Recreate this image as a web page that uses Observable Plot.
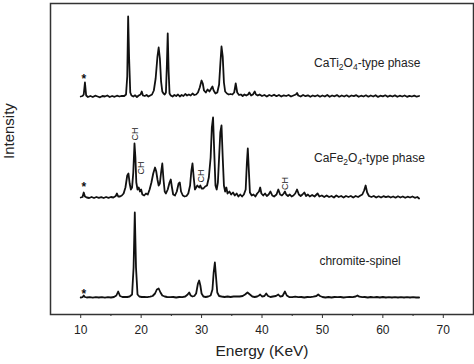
<!DOCTYPE html>
<html>
<head>
<meta charset="utf-8">
<script src="https://cdn.jsdelivr.net/npm/d3@7"></script>
<script src="https://cdn.jsdelivr.net/npm/@observablehq/plot@0.6"></script>
<style>
  html, body { margin: 0; padding: 0; background: #fff; }
</style>
</head>
<body>
<div id="chart"></div>
<script>
// Series names and stacking offsets (intensity, arbitrary units)
const seriesNames = ["CaTi₂O₄-type phase", "CaFe₂O₄-type phase", "chromite-spinel"];
const seriesOffsets = [218, 117, 17];

// [energy keV, intensity above baseline]
const caTi = [[10,0],[10.3,0.5],[10.5,2],[10.7,14],[10.9,1],[11.2,-0.5],[11.6,0.5],[12,-0.5],[12.4,0.8],[12.8,0],[13.2,-0.8],[13.6,0.5],[14,0],[14.4,1],[14.8,-0.5],[15.2,0.5],[15.6,-0.3],[16,0.8],[16.4,0],[16.8,0.6],[17.2,0.5],[17.5,2],[17.7,20],[17.85,80],[18.0,40],[18.2,4],[18.4,1],[18.7,0],[19.0,1.2],[19.3,-0.5],[19.6,1],[19.9,2],[20.1,5],[20.3,1],[20.6,0.5],[20.9,1.5],[21.2,0],[21.5,1],[21.8,2],[22.1,6],[22.4,18],[22.7,40],[22.9,49],[23.1,38],[23.3,15],[23.5,5],[23.7,3],[23.9,2],[24.1,4],[24.25,30],[24.4,63],[24.55,25],[24.7,3],[24.9,1],[25.2,0],[25.5,1.5],[25.8,0.5],[26.1,2],[26.4,0],[26.7,1.5],[27.0,0.5],[27.3,2.5],[27.6,1],[27.9,2],[28.2,1],[28.5,3],[28.8,1.5],[29.1,2],[29.4,4],[29.7,9],[30.0,16],[30.2,13],[30.4,6],[30.7,4],[31.0,7],[31.3,5],[31.6,8],[31.8,10],[32.0,6],[32.3,3],[32.6,4],[32.9,12],[33.1,32],[33.3,50],[33.5,40],[33.7,14],[33.9,5],[34.2,3],[34.5,2],[34.8,2.5],[35.1,2],[35.4,4],[35.65,13],[35.9,4],[36.2,1.5],[36.5,2],[36.8,0.5],[37.1,2],[37.4,1],[37.7,2],[37.9,4],[38.2,1],[38.5,2],[38.8,5],[39.0,2],[39.3,1],[39.6,2],[40,0.5],[40.4,1.5],[40.8,0],[41.2,1.5],[41.6,0.5],[42,1.8],[42.4,0.3],[42.8,1.5],[43.2,0],[43.6,1.2],[44,0.5],[44.4,1.5],[44.8,0],[45.2,1],[45.6,2],[45.8,3.5],[46.0,1],[46.4,0],[46.8,1.5],[47.2,0.3],[47.6,1.2],[48,-0.3],[48.4,1],[48.8,0.2],[49.2,1.3],[49.6,-0.2],[50,1],[50.4,0],[50.8,1.5],[51.2,-0.3],[51.6,1],[52,0.2],[52.4,1.4],[52.8,-0.2],[53.2,1],[53.6,0],[54,1.2],[54.4,-0.3],[54.8,1],[55.2,0.3],[55.6,1.3],[56,-0.3],[56.4,0.8],[56.8,0],[57.2,1.2],[57.6,-0.2],[58,1],[58.4,0],[58.8,1.3],[59.2,-0.4],[59.6,0.8],[60,0.1],[60.4,1.2],[60.8,-0.3],[61.2,0.9],[61.6,0],[62,1.1],[62.4,-0.3],[62.8,0.8],[63.2,0],[63.6,1],[64,-0.3],[64.4,0.7],[64.8,0],[65.2,0.9],[65.6,-0.2],[66,0.5]];

const caFe = [[10,0],[10.3,0.5],[10.5,5],[10.7,1],[11,0],[11.4,-0.5],[11.8,0.5],[12.2,-0.5],[12.6,0.5],[13,-0.3],[13.4,0.4],[13.8,-0.5],[14.2,0.5],[14.6,-0.3],[15,0.5],[15.4,0],[15.8,1.5],[16.0,4],[16.2,1],[16.5,1],[16.8,2],[17.1,4],[17.4,10],[17.7,22],[17.9,24],[18.1,14],[18.3,8],[18.5,10],[18.7,25],[18.9,54],[19.05,40],[19.2,15],[19.4,8],[19.6,10],[19.8,6],[20.0,8],[20.2,3],[20.5,2],[20.8,4],[21.1,3],[21.4,8],[21.7,15],[22.0,24],[22.3,30],[22.5,26],[22.7,18],[22.9,12],[23.1,14],[23.3,25],[23.5,34],[23.7,18],[23.9,6],[24.1,4],[24.4,8],[24.7,15],[24.9,18],[25.1,10],[25.3,3],[25.6,2],[25.9,6],[26.2,14],[26.4,15],[26.6,6],[26.9,2],[27.2,1],[27.5,1.5],[27.8,4],[28.1,12],[28.3,26],[28.5,34],[28.7,20],[28.9,8],[29.1,10],[29.3,12],[29.6,10],[29.8,12],[30.0,9],[30.3,9],[30.6,11],[30.9,12],[31.2,20],[31.5,40],[31.7,70],[31.9,80],[32.1,45],[32.3,12],[32.5,8],[32.7,15],[32.9,40],[33.1,65],[33.3,72],[33.5,40],[33.7,12],[33.9,6],[34.1,10],[34.3,4],[34.6,6],[34.9,3],[35.2,5],[35.5,2],[35.8,4],[36.1,1],[36.4,3],[36.7,1],[37.0,3],[37.3,8],[37.5,35],[37.65,49],[37.8,30],[38.0,5],[38.3,2],[38.6,3],[38.9,1],[39.2,4],[39.5,6],[39.7,10],[39.9,4],[40.2,2],[40.5,4],[40.8,1.5],[41.1,3],[41.4,6],[41.7,2],[42.0,1],[42.4,3],[42.7,8],[43.0,3],[43.3,2],[43.6,4],[43.8,6],[44.0,3],[44.3,1.5],[44.6,3],[44.9,1],[45.2,2],[45.5,4],[45.8,8],[46.1,3],[46.4,1.5],[46.7,3],[47.0,5],[47.3,1.5],[47.6,3],[47.9,1],[48.3,2.5],[48.7,1],[49.2,4],[49.5,1],[49.9,2],[50.3,0.5],[50.7,2],[51.1,0.5],[51.5,1.5],[51.9,0],[52.3,2],[52.7,0.5],[53.1,1.5],[53.5,0],[53.9,1.5],[54.3,0.5],[54.7,1.5],[55.1,0],[55.5,1.5],[55.9,0.5],[56.3,2],[56.6,3],[56.9,7],[57.15,12],[57.4,5],[57.7,1.5],[58.1,0.5],[58.5,1.5],[58.9,0],[59.3,1.2],[59.7,0],[60.1,1.3],[60.5,0.3],[60.9,1.2],[61.3,0],[61.7,1],[62.1,-0.2],[62.5,1.2],[62.9,0],[63.3,1],[63.7,-0.3],[64.1,0.8],[64.5,0],[64.9,1],[65.3,-0.3],[65.7,0.5],[66,-1]];

const chromite = [[10,0],[10.3,0.3],[10.5,2],[10.7,0.5],[11,0],[11.5,0.3],[12,-0.2],[12.5,0.3],[13,0],[13.5,0.3],[14,-0.2],[14.5,0.3],[15,0],[15.5,0.5],[15.9,2],[16.2,6],[16.5,1.5],[16.9,0.5],[17.3,0.5],[17.7,0.5],[18.1,1],[18.5,3],[18.75,30],[18.95,85],[19.15,30],[19.4,3],[19.7,1],[20.1,0.5],[20.5,0.5],[21.0,0.3],[21.5,0.8],[21.9,1.5],[22.3,4],[22.6,8],[22.9,9],[23.2,5],[23.5,2],[23.9,1],[24.3,0.5],[24.8,0.3],[25.3,0.5],[25.8,0],[26.3,0.5],[26.8,0.3],[27.3,1],[27.7,3],[27.95,5],[28.2,2],[28.5,1],[28.8,1.5],[29.1,4],[29.4,14],[29.6,17],[29.8,12],[30.0,4],[30.3,1],[30.7,0.5],[31.1,1],[31.5,2],[31.8,8],[32.0,25],[32.2,35],[32.4,20],[32.6,5],[32.9,1.5],[33.3,1],[33.8,0.5],[34.3,1],[34.8,0.5],[35.3,1],[35.8,1],[36.3,1],[36.8,1.5],[37.2,3],[37.6,5],[38.0,3],[38.4,1],[38.8,0.5],[39.2,1],[39.5,2],[39.7,3],[40.0,1],[40.4,1.5],[40.7,4],[41.0,1.5],[41.4,0.5],[41.8,1],[42.3,1.5],[42.7,3],[43.0,1],[43.4,1.5],[43.8,6],[44.1,2],[44.5,0.5],[45,0.3],[45.5,0.8],[46,0.3],[46.5,0.5],[47,0],[47.5,0.5],[48,0.3],[48.5,0.8],[49,1.5],[49.3,3],[49.6,1.5],[50,0.5],[50.5,0],[51,0.5],[51.5,0],[52,0.5],[52.5,0.3],[53,0.5],[53.5,0],[54,0.3],[54.5,0.5],[55,0.3],[55.5,1],[55.8,2],[56.1,0.8],[56.6,0.3],[57,0.5],[57.5,0],[58,0.5],[58.5,0.2],[59,0.5],[59.5,0],[60,0.5],[60.5,0],[61,0.4],[61.5,0],[62,0.4],[62.5,0],[63,0.3],[63.5,0],[64,0.3],[64.5,0],[65,0.3],[65.5,0],[66,0]];

// Series labels: [energy, intensity]
const labelPos = [[48.6, 251], [48.6, 156], [49.5, 53]];
// Star markers
const starE = [10.5, 10.5, 10.5];
const starI = [235, 127, 20];
// CH annotations (rotated)
const chE = [18.95, 19.95, 29.9, 43.8];
const chI = [180.5, 146.5, 138.5, 131];

const majorTicks = [10, 20, 30, 40, 50, 60, 70];
const minorTicks = [15, 25, 35, 45, 55, 65];

const rows = [];
[caTi, caFe, chromite].forEach((arr, i) => {
  arr.forEach(([e, v]) => rows.push({s: seriesNames[i], e, v: v + seriesOffsets[i]}));
});
const labels = seriesNames.map((n, i) => ({t: n, e: labelPos[i][0], v: labelPos[i][1]}));
const stars = starE.map((e, i) => ({e, v: starI[i]}));
const chs = chE.map((e, i) => ({e, v: chI[i]}));

const chart = Plot.plot({
  width: 474,
  height: 364,
  marginTop: 3,
  marginBottom: 50,
  marginLeft: 50,
  marginRight: 1,
  style: {fontFamily: "'Liberation Sans', Arial, sans-serif", fontSize: "12px", background: "white", color: "#222"},
  x: {domain: [5, 75]},
  y: {domain: [0, 311], axis: null},
  marks: [
    Plot.line(rows, {x: "e", y: "v", z: "s", stroke: "#111", strokeWidth: 1.8, curve: "linear", strokeLinejoin: "round"}),
    Plot.text(labels, {x: "e", y: "v", text: "t", textAnchor: "start", fontSize: 12, fill: "#222"}),
    Plot.text(stars, {x: "e", y: "v", text: () => "*", fontSize: 12, fontWeight: "bold", fill: "#111"}),
    Plot.text(chs, {x: "e", y: "v", text: () => "CH", rotate: -90, fontSize: 9, fill: "#222"}),
    Plot.axisX({ticks: majorTicks, tickSize: 4, tickPadding: 7, label: null, fontSize: 12, stroke: "#333"}),
    Plot.axisX({ticks: minorTicks, tickSize: 2, text: null, label: null, stroke: "#333"}),
    Plot.frame({stroke: "#333", strokeWidth: 1.5}),
    Plot.text(["Energy (KeV)"], {frameAnchor: "bottom", dy: 41, fontSize: 15.5, fill: "#222"}),
    Plot.text(["Intensity"], {frameAnchor: "left", dx: -41, rotate: -90, fontSize: 15, fill: "#222"})
  ]
});

// Render Unicode subscript digits as real subscripts (tspans)
const subMap = {"₀":"0","₁":"1","₂":"2","₃":"3","₄":"4","₅":"5","₆":"6","₇":"7","₈":"8","₉":"9"};
d3.select(chart).selectAll("text").each(function() {
  const el = this;
  if (el.children.length) return;
  const s = el.textContent;
  if (!/[₀-₉]/.test(s)) return;
  el.textContent = "";
  const parts = s.split(/([₀-₉])/).filter(p => p !== "");
  for (const p of parts) {
    const t = document.createElementNS("http://www.w3.org/2000/svg", "tspan");
    if (subMap[p]) {
      t.textContent = subMap[p];
      t.setAttribute("font-size", "8.5");
      t.setAttribute("dy", "3");
    } else {
      t.textContent = p;
      if (el.childNodes.length) t.setAttribute("dy", "-3");
    }
    el.appendChild(t);
  }
});
document.getElementById("chart").appendChild(chart);
</script>
</body>
</html>
